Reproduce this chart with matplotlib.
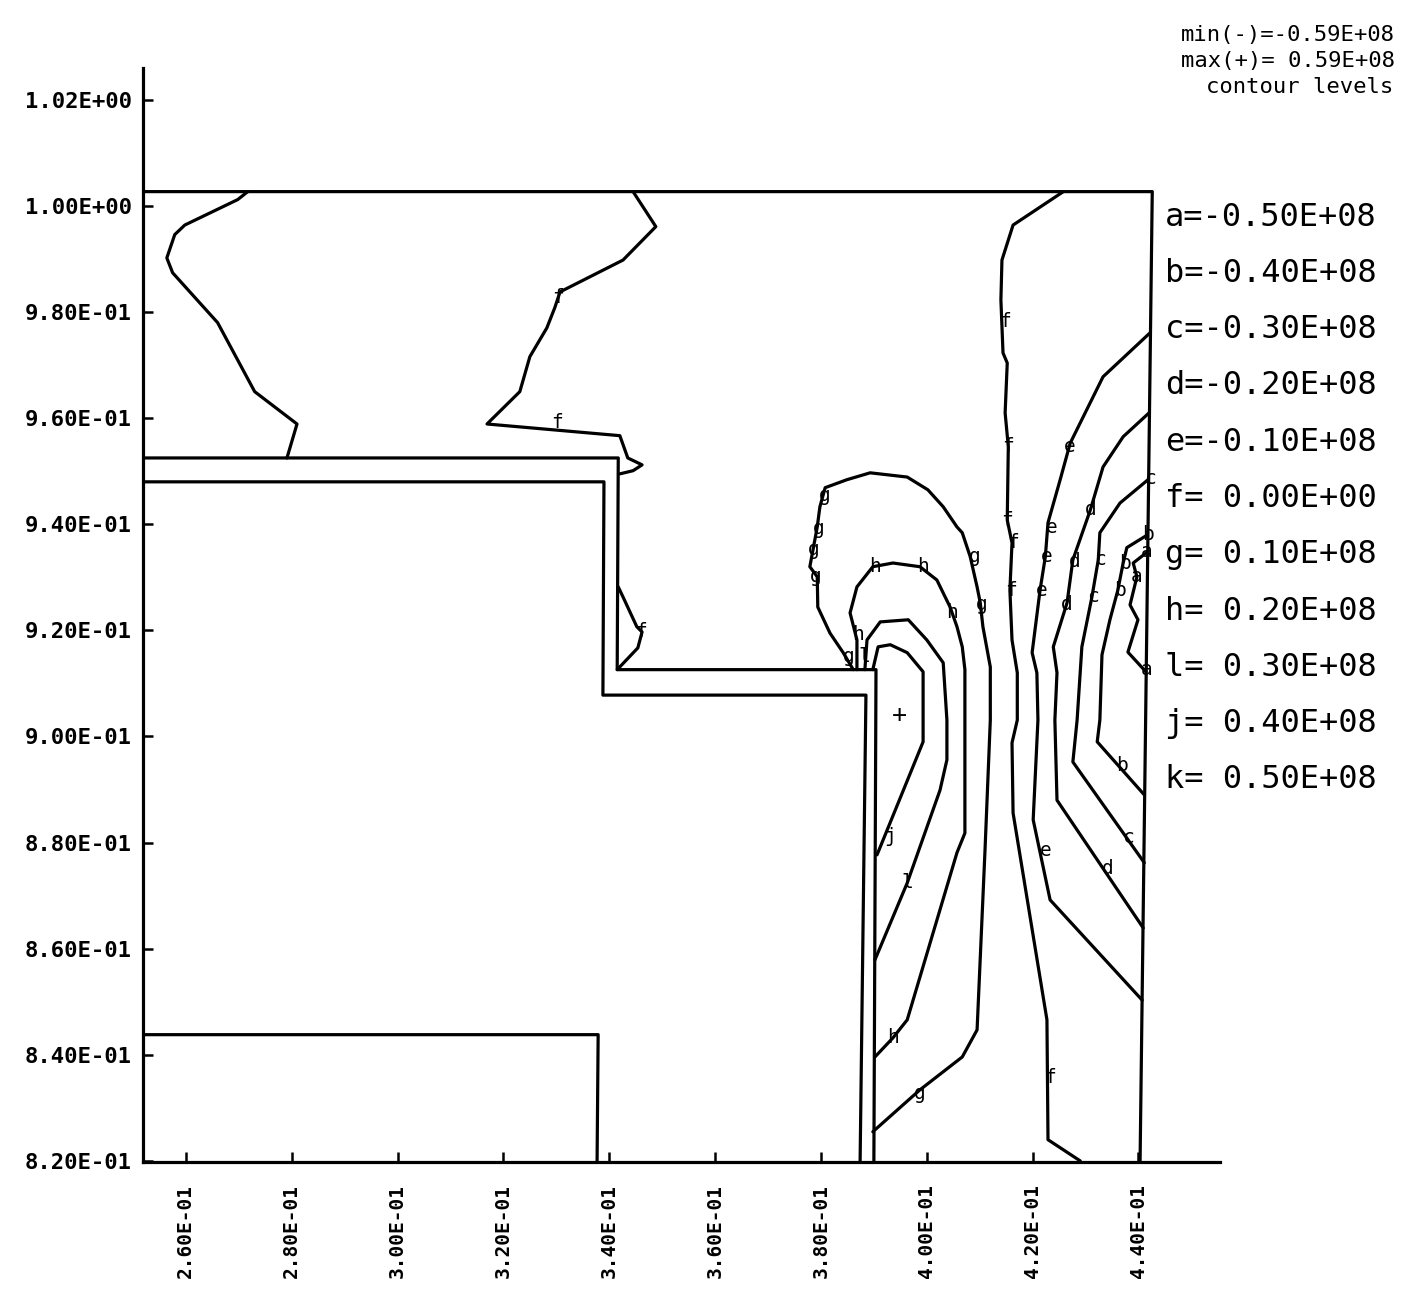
import numpy as np
import matplotlib.pyplot as plt

plt.rcParams['font.family'] = ['DejaVu Sans Mono']

# contour levels
level_names = ['a', 'b', 'c', 'd', 'e', 'f', 'g', 'h', 'l', 'j', 'k']
level_values = [-0.50e8, -0.40e8, -0.30e8, -0.20e8, -0.10e8, 0.0,
                0.10e8, 0.20e8, 0.30e8, 0.40e8, 0.50e8]
field_min = -0.59e8
field_max = 0.59e8
field_max_at = (0.3949, 0.9041)

x_ticks = [0.26, 0.28, 0.30, 0.32, 0.34, 0.36, 0.38, 0.40, 0.42, 0.44]
y_ticks = [0.82, 0.84, 0.86, 0.88, 0.90, 0.92, 0.94, 0.96, 0.98, 1.00, 1.02]

# geometry outlines
outer_boundary = [(0.2519, 1.0027), (0.4426, 1.0027), (0.4403, 0.8200)]
strip_upper = [(0.2519, 0.9525), (0.3417, 0.9525), (0.3415, 0.9126),
               (0.3904, 0.9126), (0.3900, 0.8200)]
strip_lower = [(0.2519, 0.9480), (0.3390, 0.9480), (0.3388, 0.9078),
               (0.3885, 0.9078), (0.3874, 0.8200)]
lower_block = [(0.2519, 0.8438), (0.3379, 0.8438), (0.3377, 0.8200)]

# contour lines (x, y)
f_left = [(0.2717, 1.0027), (0.2698, 1.0012), (0.2598, 0.9964), (0.2579, 0.9946),
          (0.2564, 0.9902), (0.2575, 0.9874), (0.2660, 0.9780), (0.2730, 0.9650),
          (0.2810, 0.9589), (0.2791, 0.9525)]
f_mid = [(0.3445, 1.0027), (0.3488, 0.9961), (0.3426, 0.9898), (0.3307, 0.9838),
         (0.3297, 0.9808), (0.3282, 0.9770), (0.3250, 0.9716), (0.3231, 0.9650),
         (0.3169, 0.9589), (0.3420, 0.9567), (0.3435, 0.9525), (0.3462, 0.9512),
         (0.3445, 0.9501), (0.3420, 0.9495)]
f_wall = [(0.3417, 0.9282), (0.3426, 0.9263), (0.3452, 0.9207), (0.3462, 0.9197),
          (0.3454, 0.9167), (0.3415, 0.9126)]
g_loop = [(0.3861, 0.9126), (0.3842, 0.9158), (0.3817, 0.9195), (0.3794, 0.9244),
          (0.3793, 0.9301), (0.3779, 0.9320), (0.3785, 0.9352), (0.3793, 0.9395),
          (0.3798, 0.9433), (0.3808, 0.9469), (0.3849, 0.9484), (0.3893, 0.9497),
          (0.3963, 0.9489), (0.4002, 0.9465), (0.4031, 0.9433), (0.4057, 0.9395),
          (0.4067, 0.9384), (0.4082, 0.9339), (0.4095, 0.9282), (0.4101, 0.9252),
          (0.4106, 0.9207), (0.4120, 0.9131), (0.4120, 0.9031), (0.4110, 0.8786),
          (0.4095, 0.8447), (0.4067, 0.8396), (0.3987, 0.8334), (0.3898, 0.8255)]
h_loop = [(0.3868, 0.9126), (0.3868, 0.9182), (0.3855, 0.9233), (0.3868, 0.9282),
          (0.3898, 0.9320), (0.3936, 0.9327), (0.3987, 0.9320), (0.4019, 0.9295),
          (0.4044, 0.9244), (0.4057, 0.9207), (0.4067, 0.9169), (0.4072, 0.9126),
          (0.4072, 0.8818), (0.4057, 0.8781), (0.3963, 0.8466), (0.3936, 0.8432),
          (0.3902, 0.8396)]
l_loop = [(0.3883, 0.9126), (0.3887, 0.9182), (0.3912, 0.9216), (0.3965, 0.9220),
          (0.4000, 0.9182), (0.4031, 0.9139), (0.4038, 0.9031), (0.4038, 0.8956),
          (0.4025, 0.8899), (0.3963, 0.8724), (0.3902, 0.8579)]
j_loop = [(0.3898, 0.9126), (0.3908, 0.9169), (0.3931, 0.9173), (0.3963, 0.9158),
          (0.3993, 0.9122), (0.3993, 0.8990), (0.3906, 0.8777)]
f_right = [(0.4258, 1.0027), (0.4163, 0.9964), (0.4142, 0.9898), (0.4140, 0.9823),
           (0.4144, 0.9723), (0.4152, 0.9704), (0.4148, 0.9610), (0.4154, 0.9546),
           (0.4152, 0.9408), (0.4161, 0.9365), (0.4157, 0.9276), (0.4161, 0.9182),
           (0.4171, 0.9120), (0.4171, 0.9031), (0.4161, 0.8988), (0.4163, 0.8856),
           (0.4227, 0.8466), (0.4229, 0.8240), (0.4290, 0.8200)]
e_line = [(0.4422, 0.9761), (0.4333, 0.9678), (0.4271, 0.9553), (0.4252, 0.9484),
          (0.4229, 0.9403), (0.4224, 0.9339), (0.4214, 0.9276), (0.4199, 0.9158),
          (0.4208, 0.9120), (0.4210, 0.9031), (0.4201, 0.8843), (0.4233, 0.8692),
          (0.4407, 0.8503)]
d_line = [(0.4420, 0.9610), (0.4371, 0.9565), (0.4333, 0.9508), (0.4309, 0.9427),
          (0.4276, 0.9333), (0.4265, 0.9252), (0.4239, 0.9169), (0.4246, 0.9120),
          (0.4242, 0.9031), (0.4246, 0.8880), (0.4409, 0.8639)]
c_line = [(0.4418, 0.9484), (0.4365, 0.9440), (0.4327, 0.9384), (0.4324, 0.9333),
          (0.4312, 0.9263), (0.4293, 0.9169), (0.4284, 0.9031), (0.4276, 0.8952),
          (0.4411, 0.8762)]
b_line = [(0.4417, 0.9380), (0.4378, 0.9356), (0.4371, 0.9327), (0.4361, 0.9276),
          (0.4346, 0.9220), (0.4331, 0.9154), (0.4327, 0.9031), (0.4322, 0.8990),
          (0.4411, 0.8890)]
a_loop = [(0.4417, 0.9348), (0.4390, 0.9327), (0.4397, 0.9301), (0.4384, 0.9248),
          (0.4399, 0.9220), (0.4380, 0.9159), (0.4414, 0.9122)]

# letters written along the lines
line_labels = [
    ('f', 0.3303, 0.9827), ('f', 0.3301, 0.9591), ('f', 0.3460, 0.9197),
    ('g', 0.3808, 0.9455), ('g', 0.3795, 0.9392), ('g', 0.3787, 0.9352),
    ('g', 0.3791, 0.9301), ('g', 0.3853, 0.9150), ('g', 0.4091, 0.9339),
    ('g', 0.4104, 0.9248), ('g', 0.3987, 0.8328),
    ('h', 0.3902, 0.9320), ('h', 0.3993, 0.9320), ('h', 0.4048, 0.9233),
    ('h', 0.3870, 0.9192), ('h', 0.3936, 0.8432),
    ('l', 0.3881, 0.9150), ('l', 0.3963, 0.8724),
    ('j', 0.3931, 0.8811),
    ('f', 0.4148, 0.9782), ('f', 0.4154, 0.9546), ('f', 0.4152, 0.9408),
    ('f', 0.4163, 0.9365), ('f', 0.4159, 0.9276), ('f', 0.4233, 0.8358),
    ('e', 0.4271, 0.9546), ('e', 0.4237, 0.9393), ('e', 0.4227, 0.9339),
    ('e', 0.4218, 0.9276), ('e', 0.4224, 0.8786),
    ('d', 0.4309, 0.9427), ('d', 0.4280, 0.9329), ('d', 0.4265, 0.9248),
    ('d', 0.4341, 0.8752),
    ('c', 0.4422, 0.9487), ('c', 0.4327, 0.9333), ('c', 0.4314, 0.9263),
    ('c', 0.4380, 0.8809),
    ('b', 0.4418, 0.9380), ('b', 0.4375, 0.9327), ('b', 0.4365, 0.9276),
    ('b', 0.4369, 0.8946),
    ('a', 0.4416, 0.9348), ('a', 0.4397, 0.9301), ('a', 0.4416, 0.9126),
]


def fortran_e(v):
    if v == 0:
        return ' 0.00E+00'
    exp = int(np.floor(np.log10(abs(v)))) + 1
    return '%5.2fE%+03d' % (v / 10.0 ** exp, exp)


W, H = 1423, 1292
fig = plt.figure(figsize=(W / 100, H / 100), dpi=100)
ax = fig.add_axes([143 / W, 130 / H, 1077 / W, 1094 / H])
ax.set_xlim(0.2519, 0.4554)
ax.set_ylim(0.8198, 1.0260)

for name in ['top', 'right']:
    ax.spines[name].set_visible(False)
for name in ['left', 'bottom']:
    ax.spines[name].set_linewidth(2.3)

ax.set_xticks(x_ticks)
ax.set_yticks(y_ticks)
ax.set_xticklabels(['%.2E' % v for v in x_ticks], rotation=90,
                   fontsize=14, fontweight='bold')
ax.set_yticklabels(['%.2E' % v for v in y_ticks], fontsize=16,
                   fontweight='bold')
ax.tick_params(direction='in', length=7, width=1.8)
ax.tick_params(axis='x', pad=16)
ax.tick_params(axis='y', pad=8)

line_kw = dict(color='black', lw=2.3, solid_joinstyle='round',
               solid_capstyle='round')
for pts in [outer_boundary, strip_upper, strip_lower, lower_block]:
    xs, ys = zip(*pts)
    ax.plot(xs, ys, **line_kw)

for pts in [f_left, f_mid, f_wall, g_loop, h_loop, l_loop, j_loop,
            f_right, e_line, d_line, c_line, b_line, a_loop]:
    xs, ys = zip(*pts)
    ax.plot(xs, ys, **line_kw)

for letter, x, y in line_labels:
    ax.text(x, y, letter, fontsize=14, ha='center', va='center')

ax.text(field_max_at[0], field_max_at[1], '+', fontsize=18,
        ha='center', va='center')

# header and level list
fig.text(1395 / W, 1 - 35 / H, 'min(-)=' + fortran_e(field_min),
         fontsize=16, ha='right', va='center')
fig.text(1395 / W, 1 - 61 / H, 'max(+)=' + fortran_e(field_max),
         fontsize=16, ha='right', va='center')
fig.text(1393 / W, 1 - 87 / H, 'contour levels', fontsize=16,
         ha='right', va='center')

for i, (name, val) in enumerate(zip(level_names, level_values)):
    fig.text(1165 / W, 1 - (217 + 56.3 * i) / H, name + '=' + fortran_e(val),
             fontsize=23, ha='left', va='center')

fig.savefig('out.png', dpi=100)
